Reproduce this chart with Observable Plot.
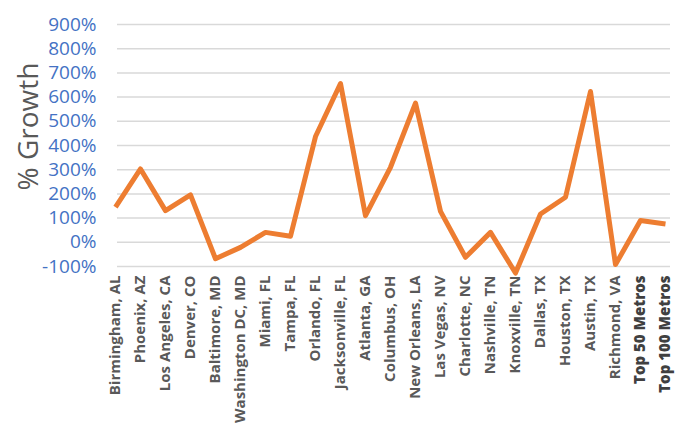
<!DOCTYPE html>
<html>
<head>
<meta charset="utf-8">
<script src="https://cdn.jsdelivr.net/npm/d3@7"></script>
<script src="https://cdn.jsdelivr.net/npm/@observablehq/plot@0.6"></script>
<style>
  html, body { margin: 0; padding: 0; background: #ffffff; }
  #chart { width: 683px; height: 427px; overflow: hidden; }
</style>
</head>
<body>
<div id="chart"></div>
<script>
const cities = [
  "Birmingham, AL", "Phoenix, AZ", "Los Angeles, CA", "Denver, CO", "Baltimore, MD",
  "Washington DC, MD", "Miami, FL", "Tampa, FL", "Orlando, FL", "Jacksonville, FL",
  "Atlanta, GA", "Columbus, OH", "New Orleans, LA", "Las Vegas, NV", "Charlotte, NC",
  "Nashville, TN", "Knoxville, TN", "Dallas, TX", "Houston, TX", "Austin, TX",
  "Richmond, VA", "Top 50 Metros", "Top 100 Metros"
];
const growth = [
  145, 303, 131, 196, -68,
  -21, 41, 25, 437, 656,
  110, 310, 575, 128, -62,
  41, -127, 117, 186, 623,
  -92, 90, 76
];
const metroLabels = ["Top 50 Metros", "Top 100 Metros"];
const yTicks = [-100, 0, 100, 200, 300, 400, 500, 600, 700, 800, 900];
const yTitle = "% Growth";

const data = cities.map((city, i) => ({city, growth: growth[i]}));
const cityLabels = cities.filter(c => !metroLabels.includes(c));

const chart = Plot.plot({
  width: 683,
  height: 427,
  marginLeft: 115,
  marginRight: 18,
  marginTop: 24,
  marginBottom: 161,
  style: {fontFamily: "'Open Sans', sans-serif", background: "#ffffff"},
  x: {type: "point", domain: cities, padding: 0, axis: null},
  y: {domain: [-100, 900], axis: null},
  marks: [
    Plot.ruleY(yTicks, {stroke: "#d9d9d9", strokeWidth: 1.5, insetLeft: 2, insetRight: -5}),
    Plot.axisY(yTicks, {
      tickSize: 0, tickPadding: 19, tickFormat: d => d + "%",
      color: "#4472c4", fontSize: 19, label: null
    }),
    Plot.axisX(cityLabels, {
      tickSize: 0, tickPadding: 9, tickRotate: -90, label: null,
      color: "#595959", fontSize: 15, fontWeight: "bold"
    }),
    Plot.axisX(metroLabels, {
      tickSize: 0, tickPadding: 9, tickRotate: -90, label: null,
      color: "#404040", fontSize: 15, fontWeight: 800
    }),
    Plot.line(data, {
      x: "city", y: "growth", stroke: "#ed7d31", strokeWidth: 5,
      strokeLinejoin: "round", strokeLinecap: "butt"
    }),
    Plot.text([yTitle], {
      frameAnchor: "top-left", rotate: -90, dx: -97, dy: 102,
      fontSize: 28, fill: "#595959", textAnchor: "middle"
    })
  ]
});
document.getElementById("chart").appendChild(chart);
</script>
</body>
</html>
